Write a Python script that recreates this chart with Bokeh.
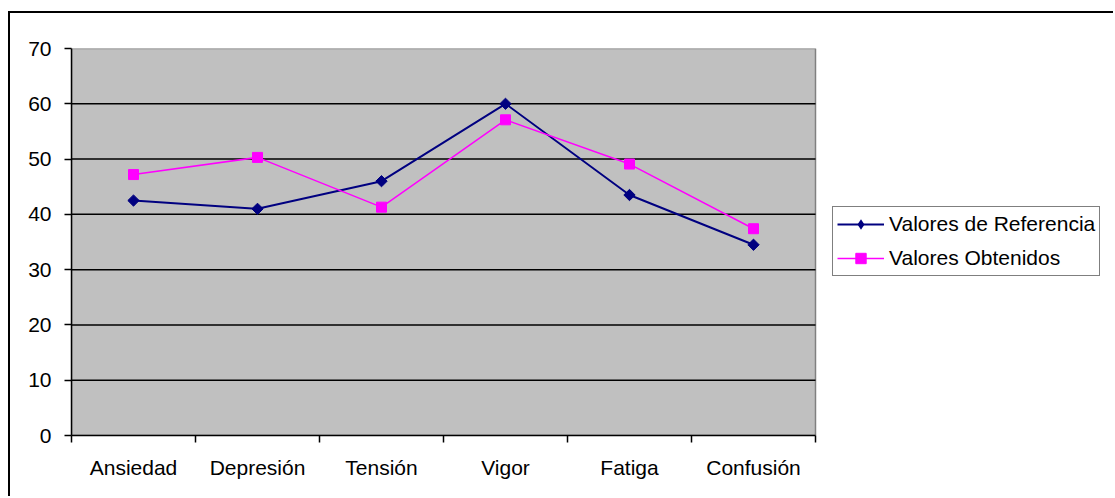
import numpy as np
from bokeh.plotting import figure
from bokeh.models import FixedTicker, Range1d, Legend, LegendItem
from bokeh.embed import file_html
from bokeh.resources import INLINE

categories = ["Ansiedad", "Depresión", "Tensión", "Vigor", "Fatiga", "Confusión"]
valores_referencia = [42.5, 41.0, 46.0, 60.0, 43.5, 34.5]
valores_obtenidos = [47.2, 50.3, 41.3, 57.1, 49.1, 37.4]
y_ticks = [0, 10, 20, 30, 40, 50, 60, 70]

n = len(categories)
x_centers = [i + 0.5 for i in range(n)]
x_bounds = list(range(n + 1))
y_max = y_ticks[-1]

FONT = "Liberation Sans"
FS = "21px"

# frame spans to the right edge; the category area occupies 744 px of it
W, H = 1105, 485
BL, BR, BT, BB = 61, 0, 35, 63
frame_w = W - BL - BR
x_end = n * frame_w / 744.0

p = figure(width=W, height=H, output_backend="svg", toolbar_location=None,
           x_range=Range1d(0, x_end), y_range=Range1d(0, y_max),
           min_border_left=BL, min_border_right=BR, min_border_top=BT, min_border_bottom=BB)
p.margin = (11, 0, 0, 8)
p.styles = {"border-top": "2px solid #000", "border-left": "2px solid #000"}

p.background_fill_color = "white"
p.border_fill_color = "white"
p.outline_line_color = None

# plot area (gray) with gray top/right border
p.quad(left=[0], right=[n], bottom=[0], top=[y_max], fill_color="#C0C0C0",
       line_color="#808080", line_width=1.5)

# horizontal grid lines only across the plot area
grid_vals = y_ticks[1:-1]
p.segment(x0=[0] * len(grid_vals), x1=[n] * len(grid_vals), y0=grid_vals, y1=grid_vals,
          line_color="black", line_width=1.5)
p.xgrid.visible = False
p.ygrid.visible = False

# y axis
p.yaxis.ticker = FixedTicker(ticks=y_ticks)
p.yaxis.axis_line_color = "black"
p.yaxis.axis_line_width = 1.5
p.yaxis.major_tick_out = 7
p.yaxis.major_tick_in = 0
p.yaxis.major_tick_line_width = 1.5
p.yaxis.minor_tick_line_color = None
p.yaxis.major_label_standoff = 13
p.yaxis.major_label_text_font = FONT
p.yaxis.major_label_text_font_size = FS
p.yaxis.major_label_text_color = "black"

# x axis
p.xaxis.bounds = (0, n)
p.xaxis.ticker = FixedTicker(ticks=x_centers, minor_ticks=x_bounds)
p.xaxis.major_label_overrides = {c: lab for c, lab in zip(x_centers, categories)}
p.xaxis.axis_line_color = "black"
p.xaxis.axis_line_width = 1.5
p.xaxis.major_tick_out = 0
p.xaxis.major_tick_in = 0
p.xaxis.minor_tick_out = 7
p.xaxis.minor_tick_in = 0
p.xaxis.minor_tick_line_color = "black"
p.xaxis.minor_tick_line_width = 1.5
p.xaxis.major_label_standoff = 13
p.xaxis.major_label_text_font = FONT
p.xaxis.major_label_text_font_size = FS
p.xaxis.major_label_text_color = "black"

# series
l1 = p.line(x_centers, valores_referencia, line_color="#000080", line_width=2)
m1 = p.scatter(x_centers, valores_referencia, marker="square", angle=np.pi / 4, size=8,
               fill_color="#000080", line_color="#000080")
# diamond used for the legend swatch (zero size on the plot)
d1 = p.scatter(x_centers, valores_referencia, marker="diamond", size=0,
               fill_color="#000080", line_color=None)
l2 = p.line(x_centers, valores_obtenidos, line_color="#FF00FF", line_width=1.5)
m2 = p.scatter(x_centers, valores_obtenidos, marker="square", size=10,
               fill_color="#FF00FF", line_color="#FF00FF")

legend = Legend(items=[LegendItem(label="Valores de Referencia", renderers=[l1, d1]),
                       LegendItem(label="Valores Obtenidos", renderers=[l2, m2])],
                location=(761, 159))
legend.label_text_font = FONT
legend.label_text_font_size = FS
legend.label_text_color = "black"
legend.glyph_width = 47
legend.glyph_height = 26
legend.label_height = 24
legend.label_standoff = 5
legend.spacing = 8
legend.padding = 4
legend.margin = 0
legend.border_line_color = "black"
legend.border_line_width = 1.5
legend.background_fill_color = "white"
legend.background_fill_alpha = 1
p.add_layout(legend, "center")

open("out.html", "w").write(file_html(p, INLINE))
